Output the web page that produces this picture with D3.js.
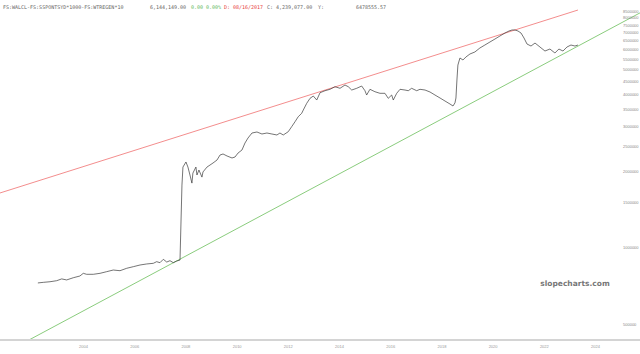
<!DOCTYPE html>
<html>
<head>
<meta charset="utf-8">
<script src="https://cdn.jsdelivr.net/npm/d3@7"></script>
<style>
  html, body { margin: 0; padding: 0; background: #fff; }
  svg { display: block; }
</style>
</head>
<body>
<svg id="chart"></svg>
<script>
// series (weekly values thinned out)
const dates = [
  "2002-03-28", "2002-06-13", "2002-09-17", "2002-12-22", "2003-03-03", "2003-05-13",
  "2003-08-15", "2003-11-18", "2004-01-05", "2004-02-22", "2004-05-27", "2004-08-31",
  "2004-12-04", "2005-03-08", "2005-06-12", "2005-09-16", "2005-12-19", "2006-03-25",
  "2006-06-28", "2006-09-30", "2006-11-17", "2007-01-03", "2007-02-20", "2007-04-10",
  "2007-05-26", "2007-07-12", "2007-08-30", "2007-10-16", "2007-11-13", "2007-11-27",
  "2008-01-09", "2008-02-06", "2008-03-06", "2008-04-03", "2008-04-17", "2008-05-30",
  "2008-06-14", "2008-07-12", "2008-08-24", "2008-09-08", "2008-11-04", "2008-12-17",
  "2009-01-29", "2009-03-27", "2009-05-09", "2009-06-21", "2009-08-17", "2009-10-27",
  "2009-12-09", "2010-01-21", "2010-03-18", "2010-04-30", "2010-06-12", "2010-08-08",
  "2010-10-18", "2010-12-28", "2011-03-09", "2011-05-19", "2011-07-30", "2011-09-11",
  "2011-10-28", "2012-01-07", "2012-02-25", "2012-04-13", "2012-05-29", "2012-07-17",
  "2012-08-09", "2012-09-27", "2012-11-13", "2012-12-30", "2013-02-17", "2013-04-05",
  "2013-06-15", "2013-08-25", "2013-11-04", "2014-01-15", "2014-03-27", "2014-05-13",
  "2014-07-01", "2014-09-10", "2014-11-20", "2015-01-06", "2015-01-30", "2015-03-18",
  "2015-05-28", "2015-08-08", "2015-10-18", "2015-12-04", "2016-01-22", "2016-02-14",
  "2016-04-03", "2016-05-20", "2016-07-30", "2016-09-15", "2016-11-02", "2017-01-13",
  "2017-03-01", "2017-05-12", "2017-07-22", "2017-10-01", "2017-12-12", "2018-02-21",
  "2018-05-03", "2018-06-15", "2018-07-13", "2018-07-27", "2018-08-10", "2018-08-24",
  "2018-09-22", "2018-11-04", "2018-12-17", "2019-02-12", "2019-04-23", "2019-07-03",
  "2019-09-13", "2019-11-24", "2020-02-04", "2020-04-15", "2020-06-26", "2020-08-22",
  "2020-10-04", "2020-11-16", "2020-12-28", "2021-02-09", "2021-03-24", "2021-05-06",
  "2021-07-02", "2021-08-28", "2021-11-07", "2022-01-17", "2022-03-29", "2022-06-08",
  "2022-08-04", "2022-10-01", "2022-11-27", "2023-01-23", "2023-03-21", "2023-05-03"
];
const values = [
  725000, 729000, 733000, 740000, 752000, 745000,
  760000, 772000, 791000, 784000, 784000, 791000,
  803000, 815000, 810000, 828000, 840000, 853000,
  861000, 866000, 879000, 871000, 898000, 876000,
  887000, 871000, 884000, 892000, 1759000, 2070000,
  2167000, 2070000, 1926000, 1790000, 1960000, 2070000,
  1926000, 2015000, 1890000, 1980000, 2070000, 2108000,
  2147000, 2206000, 2308000, 2330000, 2288000, 2247000,
  2267000, 2350000, 2415000, 2573000, 2692000, 2817000,
  2843000, 2792000, 2817000, 2792000, 2767000, 2817000,
  2767000, 2850000, 2982000, 3120000, 3265000, 3366000,
  3468000, 3686000, 3856000, 3937000, 3797000, 4057000,
  4131000, 4184000, 4283000, 4222000, 4350000, 4283000,
  4157000, 4222000, 4310000, 4131000, 3973000, 4184000,
  4094000, 4035000, 4035000, 3856000, 3973000, 3797000,
  4035000, 4184000, 4157000, 4131000, 4222000, 4131000,
  4184000, 4157000, 4083000, 3973000, 3867000, 3763000,
  3662000, 3597000, 3700000, 3867000, 4551000, 5210000,
  5555000, 5455000, 5606000, 5760000, 5865000, 6080000,
  6247000, 6420000, 6597000, 6780000, 6966000, 7092000,
  7157000, 7157000, 7092000, 6966000, 6657000, 6304000,
  6190000, 6361000, 6135000, 5917000, 6025000, 5811000,
  6025000, 5917000, 6135000, 6247000, 6190000, 6247000
];

// trend lines (two end points each)
const redTrendDates = ["2000-10-04", "2023-05-03"];
const redTrendValues = [1637000, 8576000];
const greenTrendDates = ["2001-11-21", "2025-10-04"];
const greenTrendValues = [432600, 8356000];

const yTickValues = [
  500000, 1000000, 1500000, 2000000, 2500000, 3000000, 3500000, 4000000, 4500000,
  5000000, 5500000, 6000000, 6500000, 7000000, 7500000, 8000000, 8500000
];
const xTickYears = [2004, 2006, 2008, 2010, 2012, 2014, 2016, 2018, 2020, 2022, 2024];

const headerParts = [
  { text: "FS:WALCL-FS:SSPONTSYD*1000-FS:WTREGEN*10", color: "#666", x: 3 },
  { text: "6,144,149.00", color: "#666", x: 150 },
  { text: "0.00", color: "#5cb85c", x: 191 },
  { text: "0.00%", color: "#5cb85c", x: 206 },
  { text: "D: 08/16/2017", color: "#e8403a", x: 224 },
  { text: "C: 4,239,077.00", color: "#666", x: 267 },
  { text: "Y:", color: "#666", x: 318 },
  { text: "6478555.57", color: "#666", x: 356 }
];

const W = 640, H = 354;
const parseDate = d3.timeParse("%Y-%m-%d");

const svg = d3.select("#chart")
  .attr("width", W)
  .attr("height", H)
  .style("font-family", "'Liberation Sans', Arial, sans-serif");

svg.append("rect").attr("width", W).attr("height", H).attr("fill", "#fff");

const xScale = d3.scaleTime()
  .domain([new Date(2004, 0, 1), new Date(2024, 0, 1)])
  .range([83, 595]);

const yScale = d3.scaleLog()
  .domain([500000, 8500000])
  .range([324, 11]);

svg.append("clipPath")
  .attr("id", "plot-clip")
  .append("rect")
  .attr("x", 0).attr("y", 0)
  .attr("width", W).attr("height", 339);

const line = d3.line()
  .x(d => xScale(d.date))
  .y(d => yScale(d.value));

const series = dates.map((d, i) => ({ date: parseDate(d), value: values[i] }));
const redTrend = redTrendDates.map((d, i) => ({ date: parseDate(d), value: redTrendValues[i] }));
const greenTrend = greenTrendDates.map((d, i) => ({ date: parseDate(d), value: greenTrendValues[i] }));

const plot = svg.append("g").attr("clip-path", "url(#plot-clip)");

plot.append("path")
  .datum(redTrend)
  .attr("d", line)
  .attr("fill", "none")
  .attr("stroke", "#f07070")
  .attr("stroke-width", 0.8);

plot.append("path")
  .datum(greenTrend)
  .attr("d", line)
  .attr("fill", "none")
  .attr("stroke", "#6cbf5c")
  .attr("stroke-width", 0.8);

plot.append("path")
  .datum(series)
  .attr("d", line)
  .attr("fill", "none")
  .attr("stroke", "#3a3a3a")
  .attr("stroke-width", 0.7)
  .attr("stroke-linejoin", "round");

// bottom bar + date labels
svg.append("rect")
  .attr("x", 0).attr("y", 339)
  .attr("width", W).attr("height", 2)
  .attr("fill", "#d4d4d4");

const xAxis = d3.axisBottom(xScale)
  .tickValues(xTickYears.map(y => new Date(y, 0, 1)))
  .tickFormat(d3.timeFormat("%Y"))
  .tickSize(0)
  .tickPadding(5);

svg.append("g")
  .attr("transform", "translate(0,340)")
  .call(xAxis)
  .call(g => g.select(".domain").remove())
  .selectAll("text")
  .attr("fill", "#999")
  .style("font-size", "4px")
  .style("font-family", "'Liberation Sans', Arial, sans-serif");

// price axis on the right
const yAxis = d3.axisRight(yScale)
  .tickValues(yTickValues)
  .tickFormat(d3.format("d"))
  .tickSize(0)
  .tickPadding(0);

svg.append("g")
  .attr("transform", "translate(623,0)")
  .call(yAxis)
  .call(g => g.select(".domain").remove())
  .selectAll("text")
  .attr("fill", "#888")
  .style("font-size", "4px")
  .style("font-family", "'Liberation Sans', Arial, sans-serif");

// header line
svg.append("g")
  .selectAll("text")
  .data(headerParts)
  .enter()
  .append("text")
  .attr("x", d => d.x)
  .attr("y", 9)
  .attr("fill", d => d.color)
  .style("font-family", "'DejaVu Sans Mono', 'Liberation Mono', monospace")
  .style("font-size", "5px")
  .text(d => d.text);

// watermark
svg.append("text")
  .attr("x", 575)
  .attr("y", 286)
  .attr("text-anchor", "middle")
  .attr("fill", "#777")
  .style("font-weight", "bold")
  .style("font-size", "7.5px")
  .style("font-family", "'DejaVu Sans', Verdana, sans-serif")
  .text("slopecharts.com");
</script>
</body>
</html>
